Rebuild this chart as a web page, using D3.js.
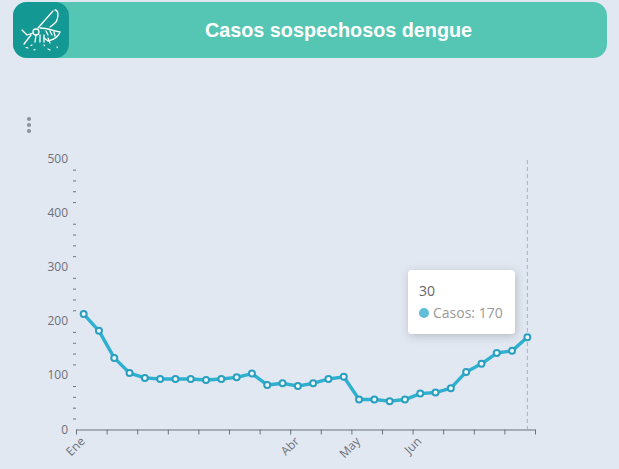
<!DOCTYPE html>
<html>
<head>
<meta charset="utf-8">
<script src="https://cdn.jsdelivr.net/npm/d3@7"></script>
<style>
html,body{margin:0;padding:0;background:#e1e8f2;}
svg{display:block;}
text{font-family:"Open Sans","Noto Sans",sans-serif;}
</style>
</head>
<body>
<svg width="619" height="469"></svg>
<script>
const semanas = ["Ene","2","3","4","5","6","7","8","9","10","11","12","13","14","Abr","16","17","18","May","20","21","22","Jun","24","25","26","27","28","29","30"]
const casos = [213,182,132,104,95,93,93,93,91,93,96,103,82,85,80,85,93,97,55,55,52,55,66,68,76,106,121,141,145,170]
const etiquetasX = ["Ene","Abr","May","Jun"]
const ticksY = [0,100,200,300,400,500]
const ticksMenores = d3.range(20,500,20).filter(d => d % 100 != 0)
const seleccion = 29

const svg = d3.select("svg")

// cabecera
svg.append("rect").attr("x",13).attr("y",2).attr("width",594).attr("height",56).attr("rx",14).attr("fill","#56c6b4")
svg.append("rect").attr("x",13).attr("y",2).attr("width",56).attr("height",56).attr("rx",14).attr("fill","#149893")
svg.append("text")
    .attr("x",338.5).attr("y",37)
    .attr("text-anchor","middle")
    .style("font-family","'Liberation Sans',sans-serif")
    .style("font-weight","bold")
    .style("font-size","19.8px")
    .attr("fill","#fff")
    .text("Casos sospechosos dengue")

// mosquito
const icono = svg.append("g").attr("fill","none").attr("stroke","#fff").attr("stroke-width",1.3).attr("stroke-linecap","round").attr("stroke-linejoin","round")
icono.append("circle").attr("cx",36).attr("cy",32).attr("r",3)
icono.append("path").attr("d","M38 28L53 11M55 10C58 10 59 15 57 20C56 23 53 25 50 27")
icono.append("path").attr("d","M40 28C47 28 54 31 60 32C59 36 54 40 48 41L44 38M46 31L48 35M50 31L52 35M54 32L55 36")
icono.append("path").attr("d","M33 33L27 35L22 30M31 35L24 44M36 35L35 42M40 35L40 42M44 35L44 42M48 38L50 43")
icono.append("path").attr("d","M26 47.5L28 48M31 45.5L32 45M34 50L35 49.5M44 45L44.5 45.5M48 49L50 50M57 47L57.5 47.5").attr("stroke-width",1.2)

// menu
svg.selectAll("circle.menu").data([0,1,2]).enter().append("circle")
    .attr("class","menu").attr("cx",29).attr("cy",d => 119 + d*6).attr("r",2.1).attr("fill","#8d92a0")

const scaleX = d3.scaleBand().domain(semanas).range([76,535]).paddingInner(0).paddingOuter(0)
const scaleBordes = d3.scaleLinear().domain([0,30]).range([76,535])
const scaleY = d3.scaleLinear().domain([0,500]).range([429.3,158.8])
const centro = d => scaleX(d) + scaleX.bandwidth()/2

// eje y
const axisYGroup = svg.append("g").attr("class","y-axis").attr("transform","translate(76,0)")
axisYGroup.call(d3.axisLeft(scaleY).tickValues(ticksMenores).tickSize(3).tickSizeOuter(0).tickFormat(""))
axisYGroup.select(".domain").remove()
axisYGroup.selectAll(".tick line").attr("stroke","#6e7079")
svg.append("g").selectAll("text").data(ticksY).enter().append("text")
    .attr("x",68).attr("y",d => scaleY(d))
    .attr("dy","0.35em").attr("text-anchor","end")
    .style("font-size","12px").attr("fill","#6e7079")
    .text(d => d)

// eje x
const axisXGroup = svg.append("g").attr("class","x-axis").attr("transform","translate(0,429.5)")
axisXGroup.call(d3.axisBottom(scaleBordes).tickValues(d3.range(0,31,2)).tickSize(5).tickSizeOuter(0).tickFormat(""))
axisXGroup.selectAll("path,line").attr("stroke","#6e7079")
svg.append("g").selectAll("text").data(etiquetasX).enter().append("text")
    .attr("transform",d => `translate(${centro(d)-4},${436}) rotate(-45)`)
    .attr("text-anchor","end").attr("dy","0.71em")
    .style("font-size","12px").attr("fill","#6e7079")
    .text(d => d)

// linea vertical
svg.append("line")
    .attr("x1",centro(semanas[seleccion])).attr("x2",centro(semanas[seleccion]))
    .attr("y1",160).attr("y2",429)
    .attr("stroke","#a9afbc").attr("stroke-dasharray","4 3").attr("stroke-width",1)

// serie
const linea = d3.line().x((d,i) => centro(semanas[i])).y(d => scaleY(d))
svg.append("path").datum(casos).attr("d",linea).attr("fill","none").attr("stroke","#2fb0cf").attr("stroke-width",3.4).attr("stroke-linejoin","round")
svg.selectAll("circle.punto").data(casos).enter().append("circle")
    .attr("class","punto")
    .attr("cx",(d,i) => centro(semanas[i])).attr("cy",d => scaleY(d))
    .attr("r",3).attr("fill","#eef5f8").attr("stroke","#2a9fc0").attr("stroke-width",2)

// tooltip
const defs = svg.append("defs")
const sombra = defs.append("filter").attr("id","sombra").attr("x","-20%").attr("y","-20%").attr("width","140%").attr("height","150%")
sombra.append("feDropShadow").attr("dx",1).attr("dy",2).attr("stdDeviation",5).attr("flood-color","#000").attr("flood-opacity",0.2)
const tip = svg.append("g").attr("transform","translate(408,270)")
tip.append("rect").attr("width",107).attr("height",64).attr("rx",4).attr("fill","#fff").attr("filter","url(#sombra)")
tip.append("text").attr("x",11).attr("y",26).style("font-size","14px").attr("fill","#666").text(semanas[seleccion])
tip.append("circle").attr("cx",16).attr("cy",43).attr("r",5).attr("fill","#5fbdd8")
tip.append("text").attr("x",25).attr("y",48).style("font-size","14px").attr("fill","#999").text(`Casos: ${casos[seleccion]}`)
</script>
</body>
</html>
